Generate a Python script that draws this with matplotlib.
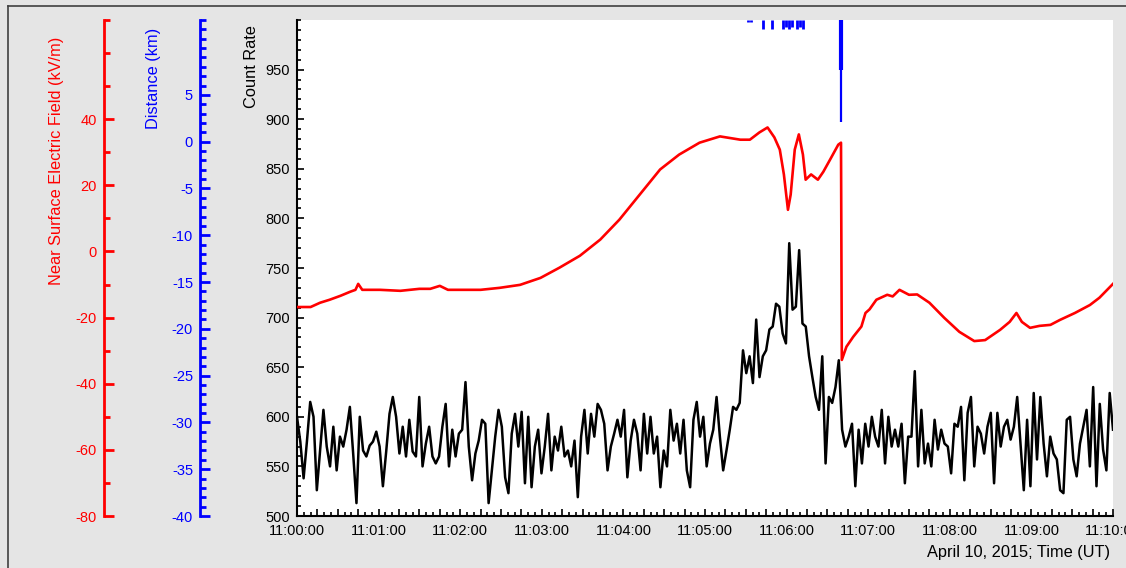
import numpy as np
import matplotlib
matplotlib.use('Agg')
import matplotlib.pyplot as plt
from matplotlib.ticker import MultipleLocator, FixedLocator, FuncFormatter
from matplotlib.lines import Line2D

# count rate (about one value every 2.4 s from 11:00:00 to 11:10:00)
counts = [
    600, 575, 538, 575, 615, 600, 526, 566, 607, 570, 550, 590, 546, 580, 570, 587,
    610, 563, 513, 600, 566, 560, 571, 575, 585, 570, 530, 565, 603, 620, 600, 563,
    590, 560, 597, 565, 560, 620, 550, 573, 590, 560, 553, 560, 590, 613, 550, 587,
    560, 583, 587, 635, 570, 536, 563, 576, 597, 593, 513, 546, 580, 607, 590,
    539, 523, 583, 603, 570, 605, 533, 600, 529, 570, 587, 543, 570, 603, 546, 580,
    566, 590, 560, 566, 550, 576, 519, 580, 607, 563, 603, 580, 613, 607, 593, 546,
    570, 583, 597, 580, 607, 539, 576, 597, 583, 546, 603, 563, 600, 563, 580, 529,
    566, 550, 607, 576, 593, 563, 597, 546, 529, 597, 615, 580, 600, 550,
    573, 587, 620, 580, 546, 566, 587, 610, 607, 614, 667, 644, 661, 634, 698, 640,
    661, 667, 688, 691, 714, 711, 684, 674, 775, 708, 711, 768, 694, 691, 661, 640,
    620, 607, 661, 553, 620, 614, 630, 657, 587, 570, 580, 593, 530, 587, 553, 593,
    570, 600, 580, 570, 607, 553, 600, 570, 587, 570, 593, 533, 580,
    580, 646, 550, 607, 553, 573, 550, 597, 567, 587, 573, 570, 543, 593, 590, 610,
    536, 604, 620, 550, 590, 583, 563, 590, 604, 533, 604, 570, 590, 597, 577, 590,
    620, 573, 526, 597, 530, 624, 557, 620, 573, 540, 580, 563, 557, 526, 523, 597,
    600, 557, 540, 573, 590, 607, 550, 630, 530, 613, 567, 546, 624, 587,
]
count_t = np.linspace(0, 600, len(counts))

# near surface electric field (kV/m), seconds after 11:00:00
field_t = [0, 10, 17, 24, 32, 39, 43, 45, 48, 61, 76, 90, 98, 105, 111, 120, 135,
           149, 164, 179, 193, 208, 223, 237, 252, 267, 281, 296, 311, 326, 333,
           340, 346, 351, 355, 358, 361, 363, 366, 369, 372, 374, 378, 383, 387,
           392, 398, 400, 400.6, 404, 409, 415, 418, 421, 426, 434, 438, 443, 450,
           456, 465, 476, 487, 498, 506, 517, 524, 529, 533, 539, 546, 554, 561,
           572, 583, 590, 600]
field = [-16.8, -16.8, -15.5, -14.6, -13.4, -12.2, -11.6, -9.8, -11.6, -11.6, -11.9,
         -11.3, -11.3, -10.4, -11.6, -11.6, -11.6, -11.0, -10.1, -8.0, -4.9, -1.3,
         3.6, 9.6, 17.2, 24.8, 29.3, 32.9, 34.8, 33.8, 33.8, 36.0, 37.5, 34.5, 30.8,
         23.3, 12.6, 17.2, 30.8, 35.4, 29.3, 21.7, 23.3, 21.7, 24.1, 27.8, 32.3,
         32.9, -32.8, -28.8, -25.8, -22.7, -18.6, -17.5, -14.6, -13.1, -13.6, -11.6,
         -13.1, -13.0, -15.5, -20.1, -24.3, -27.1, -26.8, -23.7, -21.3, -18.6, -21.3,
         -23.1, -22.5, -22.2, -20.7, -18.6, -16.2, -14.0, -9.8]

# lightning distances (km)
flash_t = [331.5, 333.5, 342.5, 349.0, 357.0, 359.5, 361.5, 364.0, 367.5, 369.5, 372.0]
flash_low = [12.8, 12.8, 12.0, 12.0, 12.0, 12.2, 12.0, 12.3, 12.0, 12.2, 12.0]
strike_t = 400
strike_dense = 7.7
strike_low = 2.1

plt.rcParams['font.family'] = ['Liberation Sans', 'DejaVu Sans']
plt.rcParams['font.size'] = 10.5
plt.rcParams['axes.unicode_minus'] = False

W, H = 1126, 568
fig = plt.figure(figsize=(W / 100, H / 100), dpi=100, facecolor='#e5e5e5')
ax = fig.add_axes([297 / W, 1 - 516 / H, 816 / W, 496 / H])
ax.set_facecolor('white')

ax.plot(count_t, counts, color='black', lw=1.8)
ax.set_xlim(0, 600)
ax.set_ylim(500, 1000)
ax.spines['top'].set_visible(False)
ax.spines['right'].set_visible(False)
ax.spines['left'].set_linewidth(1.5)
ax.spines['bottom'].set_linewidth(1.5)
ax.yaxis.set_major_locator(FixedLocator(np.arange(500, 951, 50)))
ax.yaxis.set_minor_locator(MultipleLocator(10))
ax.xaxis.set_major_locator(MultipleLocator(15))
ax.xaxis.set_minor_locator(MultipleLocator(5))


def time_label(v, pos):
    s = int(round(v))
    if s % 60:
        return ''
    return '11:%02d:00' % (s // 60)


ax.xaxis.set_major_formatter(FuncFormatter(time_label))
ax.tick_params(which='both', direction='in', width=1.2)
ax.tick_params(axis='x', pad=6)
ax.tick_params(axis='y', pad=5)
ax.tick_params(which='major', length=5)
ax.tick_params(which='minor', length=3)

# electric field axis
ax_e = ax.twinx()
for s in ['top', 'right', 'bottom']:
    ax_e.spines[s].set_visible(False)
ax_e.spines['left'].set_visible(True)
ax_e.spines['left'].set_position(('axes', (104 - 297) / 816))
ax_e.spines['left'].set_color('red')
ax_e.spines['left'].set_linewidth(2)
ax_e.yaxis.set_ticks_position('left')
ax_e.set_ylim(-80, 70)
ax_e.yaxis.set_major_locator(FixedLocator(np.arange(-80, 41, 20)))
ax_e.yaxis.set_minor_locator(MultipleLocator(10))
ax_e.tick_params(which='both', direction='in', colors='red', width=2, pad=5)
ax_e.tick_params(which='major', length=7)
ax_e.tick_params(which='minor', length=4)
ax_e.plot(field_t, field, color='red', lw=1.9)

# distance axis
ax_d = ax.twinx()
for s in ['top', 'right', 'bottom']:
    ax_d.spines[s].set_visible(False)
ax_d.spines['left'].set_visible(True)
ax_d.spines['left'].set_position(('axes', (200 - 297) / 816))
ax_d.spines['left'].set_color('blue')
ax_d.spines['left'].set_linewidth(2)
ax_d.yaxis.set_ticks_position('left')
ax_d.set_ylim(-40, 13)
ax_d.yaxis.set_major_locator(FixedLocator(np.arange(-40, 6, 5)))
ax_d.yaxis.set_minor_locator(MultipleLocator(1))
ax_d.tick_params(which='both', direction='in', colors='blue', width=2, pad=5)
ax_d.tick_params(which='major', length=7)
ax_d.tick_params(which='minor', length=4)
ax_d.vlines(flash_t, flash_low, 13, color='blue', lw=2)
ax_d.vlines([strike_t], [strike_low], 13, color='blue', lw=1.6)
ax_d.vlines([strike_t], [strike_dense], 13, color='blue', lw=3)

fig.text(57 / W, 1 - 161 / H, 'Near Surface Electric Field (kV/m)', rotation=90,
         color='red', ha='center', va='center', fontsize=11.8)
fig.text(154 / W, 1 - 78 / H, 'Distance (km)', rotation=90, color='blue',
         ha='center', va='center', fontsize=11.8)
fig.text(252 / W, 1 - 67 / H, 'Count Rate', rotation=90, color='black',
         ha='center', va='center', fontsize=11.8)
fig.text(1110 / W, 1 - 553 / H, 'April 10, 2015; Time (UT)', ha='right',
         va='center', fontsize=11.8)

fig.add_artist(Line2D([8 / W, 8 / W], [0, 1 - 6 / H], color='#404040', lw=1.2))
fig.add_artist(Line2D([8 / W, 1], [1 - 6 / H, 1 - 6 / H], color='#404040', lw=1.2))

fig.savefig('out.png', dpi=100, facecolor=fig.get_facecolor())
